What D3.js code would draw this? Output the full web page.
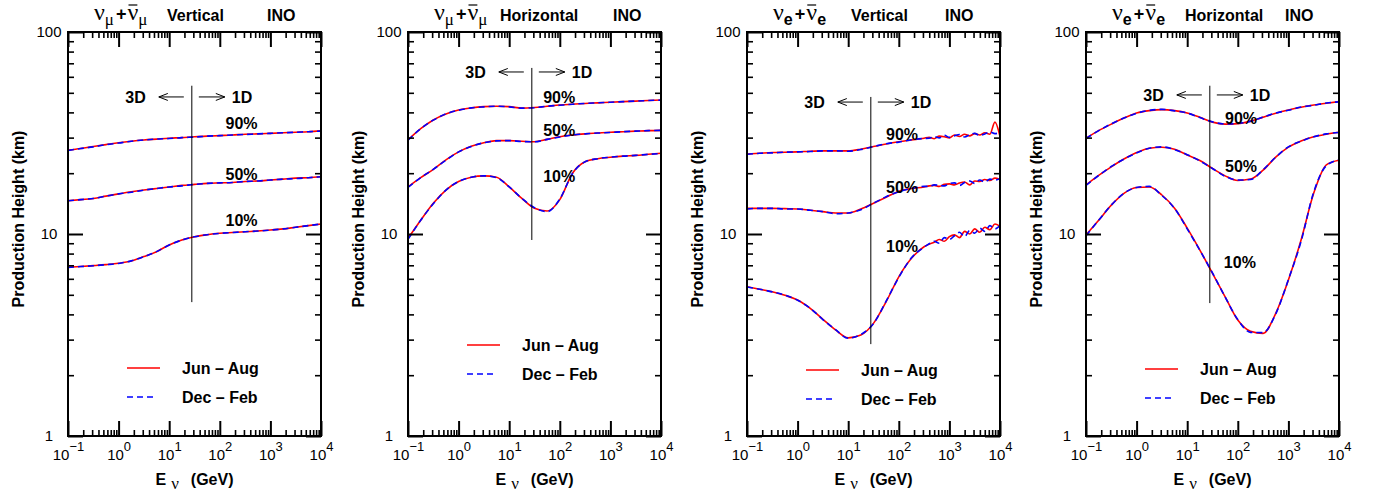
<!DOCTYPE html>
<html>
<head>
<meta charset="utf-8">
<script src="https://cdn.jsdelivr.net/npm/d3@7"></script>
<style>
  body { margin: 0; background: #fff; }
  svg { font-family: "Liberation Sans", Arial, Helvetica, sans-serif; }
  .bold { font-weight: bold; font-size: 16px; }
  .tick text { font-size: 15px; fill: #000; }
  .nu { font-family: "Liberation Serif", "DejaVu Serif", serif; font-size: 24px; }
  .mu { font-family: "Liberation Serif", "DejaVu Serif", serif; font-size: 17px; }
  .esub { font-weight: bold; font-size: 16px; }
  .plus { font-weight: bold; font-size: 18px; }
</style>
</head>
<body>
<svg width="1374" height="495"></svg>
<script>
// energy grid in GeV (log10 E = -1 ... 4 in steps of 0.25)
const energy = [0.1, 0.178, 0.316, 0.562, 1, 1.78, 3.16, 5.62, 10, 17.8, 31.6, 56.2,
  100, 178, 316, 562, 1000, 1780, 3160, 5620, 10000];
// finer grid above 300 GeV for the noisy nu_e vertical panel
const energyFine = [0.1, 0.178, 0.316, 0.562, 1, 1.78, 3.16, 5.62, 10, 17.8, 31.6, 56.2,
  100, 178, 316, 398, 501, 631, 794, 1000, 1259, 1585, 1995, 2512, 3162, 3981, 5012,
  6310, 7943, 10000];

// nu_mu vertical
const numuV90Jja = [26.0, 26.5, 27.1, 27.7, 28.3, 28.8, 29.2, 29.5, 29.8, 30.0, 30.3, 30.5, 30.7, 30.9, 31.2, 31.3, 31.5, 31.7, 31.9, 32.1, 32.4];
const numuV90Djf = [25.9, 26.5, 27.0, 27.7, 28.2, 28.8, 29.2, 29.5, 29.7, 30.0, 30.2, 30.5, 30.7, 30.9, 31.1, 31.3, 31.5, 31.7, 31.9, 32.1, 32.3];
const numuV50Jja = [14.6, 14.8, 15.0, 15.4, 15.8, 16.2, 16.5, 16.8, 17.1, 17.4, 17.6, 17.8, 17.9, 18.0, 18.2, 18.3, 18.5, 18.7, 18.9, 19.0, 19.2];
const numuV50Djf = [14.6, 14.8, 15.0, 15.4, 15.8, 16.1, 16.5, 16.8, 17.1, 17.3, 17.6, 17.8, 17.9, 18.0, 18.2, 18.3, 18.5, 18.7, 18.8, 19.0, 19.2];
const numuV10Jja = [6.84, 6.90, 6.97, 7.05, 7.16, 7.35, 7.73, 8.17, 8.83, 9.34, 9.70, 9.92, 10.08, 10.17, 10.26, 10.35, 10.46, 10.6, 10.8, 11.0, 11.2];
const numuV10Djf = [6.82, 6.90, 6.96, 7.05, 7.15, 7.36, 7.72, 8.18, 8.82, 9.33, 9.69, 9.92, 10.07, 10.17, 10.26, 10.34, 10.46, 10.6, 10.8, 11.0, 11.2];

// nu_mu horizontal
const numuH90Jja = [29.2, 33.2, 36.7, 39.3, 41.1, 42.1, 42.7, 42.9, 42.7, 42.0, 42.3, 42.9, 43.5, 43.9, 44.3, 44.6, 44.9, 45.2, 45.5, 45.8, 46.1];
const numuH90Djf = [29.1, 33.2, 36.6, 39.3, 41.0, 42.1, 42.6, 42.9, 42.6, 42.0, 42.2, 42.9, 43.4, 43.9, 44.3, 44.6, 44.9, 45.2, 45.5, 45.8, 46.0];
const numuH50Jja = [17.1, 19.0, 20.9, 23.3, 25.5, 27.2, 28.3, 29.0, 29.0, 28.8, 28.6, 29.4, 30.3, 30.9, 31.3, 31.6, 31.9, 32.1, 32.3, 32.5, 32.6];
const numuH50Djf = [17.0, 19.0, 20.9, 23.2, 25.5, 27.1, 28.3, 28.9, 29.0, 28.7, 28.6, 29.4, 30.2, 30.9, 31.3, 31.6, 31.8, 32.1, 32.3, 32.5, 32.6];
const numuH10Jja = [9.5, 11.7, 14.2, 16.5, 18.2, 19.1, 19.4, 19.1, 17.1, 15.0, 13.4, 13.0, 14.8, 20.0, 22.8, 23.6, 24.0, 24.3, 24.5, 24.8, 25.1];
const numuH10Djf = [9.4, 11.7, 14.1, 16.5, 18.2, 19.1, 19.4, 19.0, 17.1, 15.0, 13.5, 12.9, 14.9, 19.9, 22.8, 23.6, 24.0, 24.3, 24.5, 24.8, 25.0];

// nu_e vertical (fine grid)
const nueV90Jja = [24.9, 25.1, 25.3, 25.4, 25.5, 25.7, 25.8, 25.8, 25.8, 26.3, 27.1, 27.9, 28.6, 29.2, 29.8,
  30.1, 29.6, 30.5, 30.3, 29.9, 30.9, 30.4, 31.2, 30.6, 31.4, 30.9, 31.7, 31.2, 35.8, 30.4];
const nueV90Djf = [24.8, 25.1, 25.2, 25.4, 25.5, 25.6, 25.8, 25.8, 25.7, 26.2, 27.1, 28.0, 28.5, 29.3, 29.7,
  29.8, 30.4, 29.9, 30.8, 30.1, 30.6, 31.1, 30.2, 31.0, 31.5, 30.7, 31.3, 32.0, 31.4, 31.8];
const nueV50Jja = [13.4, 13.4, 13.4, 13.35, 13.3, 13.1, 12.9, 12.7, 12.7, 13.3, 14.2, 15.2, 16.3, 16.8, 17.1,
  17.3, 17.4, 17.2, 17.6, 17.7, 17.5, 17.9, 18.1, 17.5, 18.3, 18.2, 18.6, 18.4, 18.9, 18.6];
const nueV50Djf = [13.3, 13.4, 13.4, 13.3, 13.3, 13.1, 12.9, 12.6, 12.7, 13.2, 14.2, 15.3, 16.2, 16.8, 17.2,
  17.2, 17.5, 17.4, 17.3, 17.8, 17.9, 17.4, 18.0, 18.3, 17.8, 18.5, 18.1, 18.7, 18.5, 18.8];
const nueV10Jja = [5.48, 5.33, 5.18, 4.97, 4.71, 4.28, 3.78, 3.35, 3.06, 3.16, 3.61, 4.62, 6.14, 7.58, 8.65,
  8.9, 9.1, 9.4, 9.2, 9.7, 9.9, 9.6, 10.3, 10.0, 10.6, 10.2, 10.8, 10.5, 11.2, 10.9];
const nueV10Djf = [5.47, 5.33, 5.17, 4.98, 4.70, 4.29, 3.77, 3.36, 3.05, 3.18, 3.60, 4.65, 6.10, 7.62, 8.60,
  8.95, 9.2, 9.0, 9.6, 9.4, 9.8, 10.2, 9.7, 10.4, 10.1, 10.7, 10.3, 11.0, 10.6, 11.0];

// nu_e horizontal
const nueH90Jja = [29.8, 32.5, 35.0, 37.5, 39.7, 40.8, 41.3, 40.8, 39.7, 37.8, 35.8, 35.0, 35.2, 36.2, 37.9, 39.6, 41.1, 42.4, 43.5, 44.4, 45.2];
const nueH90Djf = [29.7, 32.5, 35.1, 37.5, 39.6, 40.9, 41.4, 40.7, 39.7, 37.7, 35.9, 35.0, 35.3, 36.1, 37.9, 39.7, 41.0, 42.5, 43.4, 44.5, 45.1];
const nueH50Jja = [17.5, 19.5, 21.5, 23.5, 25.3, 26.6, 26.9, 26.3, 24.6, 23.1, 21.1, 19.4, 18.4, 18.7, 20.7, 24.0, 26.9, 28.9, 30.3, 31.2, 31.9];
const nueH50Djf = [17.4, 19.5, 21.6, 23.5, 25.2, 26.6, 27.0, 26.2, 24.7, 23.0, 21.1, 19.3, 18.5, 18.6, 20.8, 24.0, 27.0, 28.8, 30.3, 31.3, 31.8];
const nueH10Jja = [9.9, 11.7, 13.9, 15.9, 17.0, 17.1, 15.6, 13.4, 10.7, 8.33, 6.39, 4.89, 3.75, 3.30, 3.22, 4.05, 5.92, 9.34, 15.9, 22.0, 23.2];
const nueH10Djf = [9.8, 11.7, 13.9, 15.9, 17.0, 17.2, 15.5, 13.4, 10.6, 8.30, 6.42, 4.87, 3.77, 3.26, 3.25, 4.02, 5.95, 9.20, 16.1, 21.8, 23.3];

const percentLabels = ['10%', '50%', '90%'];
const seasonLabels = ['Jun \u2013 Aug', 'Dec \u2013 Feb'];
const xMajor = [0.1, 1, 10, 100, 1000, 10000];
const xExponent = ['\u22121', '0', '1', '2', '3', '4'];
const yMajor = [1, 10, 100];
const cutEnergy = 28; // 3D / 1D boundary

const svg = d3.select('svg');

const plotW = 253;
const plotH = 404;
const plotTop = 32;

const panels = [
  { left: 68, sub: '\u03bc', subClass: 'mu', dir: 'Vertical', dirX: 99, inoX: 199,
    energy: energy,
    jja: [numuV10Jja, numuV50Jja, numuV90Jja], djf: [numuV10Djf, numuV50Djf, numuV90Djf],
    line: [4.6, 54.2], arrowY: 47.7, pctX: [130, 130, 130], pctY: [11.7, 19.8, 35.5], legendY: 336 },
  { left: 408, sub: '\u03bc', subClass: 'mu', dir: 'Horizontal', dirX: 92, inoX: 205,
    energy: energy,
    jja: [numuH10Jja, numuH50Jja, numuH90Jja], djf: [numuH10Djf, numuH50Djf, numuH90Djf],
    line: [9.34, 66.4], arrowY: 63.4, pctX: [47, 47, 47], pctY: [19.4, 32.6, 47.7], legendY: 313 },
  { left: 747, sub: 'e', subClass: 'esub', dir: 'Vertical', dirX: 104, inoX: 198,
    energy: energyFine,
    jja: [nueV10Jja, nueV50Jja, nueV90Jja], djf: [nueV10Djf, nueV50Djf, nueV90Djf],
    line: [2.85, 47.7], arrowY: 45.0, pctX: [56, 56, 56], pctY: [8.7, 17.1, 31.1], legendY: 338 },
  { left: 1086, sub: 'e', subClass: 'esub', dir: 'Horizontal', dirX: 99, inoX: 199,
    energy: energy,
    jja: [nueH10Jja, nueH50Jja, nueH90Jja], djf: [nueH10Djf, nueH50Djf, nueH90Djf],
    line: [4.55, 54.2], arrowY: 48.8, pctX: [53, 56, 56], pctY: [7.3, 21.8, 37.6], legendY: 337 }
];

const xScale = d3.scaleLog().domain([0.1, 10000]).range([0, plotW]);
const yScale = d3.scaleLog().domain([1, 100]).range([plotH, 0]);

const xMinor = xScale.ticks().filter(v => !xMajor.some(m => Math.abs(m - v) / m < 1e-6));
const yMinor = yScale.ticks().filter(v => !yMajor.some(m => Math.abs(m - v) / m < 1e-6));

const lineGen = d3.line()
  .x(d => xScale(d[0]))
  .y(d => yScale(d[1]))
  .curve(d3.curveMonotoneX);

const noLabel = () => '';

panels.forEach((p, pi) => {
  const g = svg.append('g').attr('transform', `translate(${p.left},${plotTop})`);

  g.append('clipPath').attr('id', 'clip' + pi)
    .append('rect').attr('width', plotW).attr('height', plotH);

  // curves: Jun-Aug red solid, Dec-Feb blue dashed on top
  const curves = g.append('g').attr('clip-path', `url(#clip${pi})`);
  p.jja.forEach(vals => {
    curves.append('path')
      .datum(p.energy.map((e, i) => [e, vals[i]]))
      .attr('d', lineGen)
      .attr('fill', 'none').attr('stroke', '#ff0000').attr('stroke-width', 1.6);
  });
  p.djf.forEach(vals => {
    curves.append('path')
      .datum(p.energy.map((e, i) => [e, vals[i]]))
      .attr('d', lineGen)
      .attr('fill', 'none').attr('stroke', '#0000ff').attr('stroke-width', 1.6)
      .attr('stroke-dasharray', '6,4');
  });

  // frame
  g.append('rect').attr('width', plotW).attr('height', plotH)
    .attr('fill', 'none').attr('stroke', '#000').attr('stroke-width', 2);

  // ticks on all four sides, pointing inwards
  const axes = [
    [d3.axisBottom(xScale).tickValues(xMajor).tickSize(-15), `translate(0,${plotH})`, 2, 'xb'],
    [d3.axisBottom(xScale).tickValues(xMinor).tickSize(-6).tickFormat(noLabel), `translate(0,${plotH})`, 1.6],
    [d3.axisTop(xScale).tickValues(xMajor).tickSize(-15).tickFormat(noLabel), 'translate(0,0)', 2],
    [d3.axisTop(xScale).tickValues(xMinor).tickSize(-6).tickFormat(noLabel), 'translate(0,0)', 1.6],
    [d3.axisLeft(yScale).tickValues(yMajor).tickSize(-15).tickFormat(d3.format('d')), 'translate(0,0)', 2, 'yl'],
    [d3.axisLeft(yScale).tickValues(yMinor).tickSize(-6).tickFormat(noLabel), 'translate(0,0)', 1.6],
    [d3.axisRight(yScale).tickValues(yMajor).tickSize(-15).tickFormat(noLabel), `translate(${plotW},0)`, 2],
    [d3.axisRight(yScale).tickValues(yMinor).tickSize(-6).tickFormat(noLabel), `translate(${plotW},0)`, 1.6]
  ];
  axes.forEach(([ax, tr, sw, cls]) => {
    const ag = g.append('g').attr('transform', tr).call(ax);
    ag.select('.domain').remove();
    ag.attr('font-family', null).attr('font-size', null);
    if (cls) ag.classed(cls, true);
    ag.selectAll('.tick line').attr('stroke', '#000').attr('stroke-width', sw);
    if (!cls) ag.selectAll('.tick text').remove();
  });

  // x tick labels 10^n
  g.select('.xb').selectAll('.tick text').each(function (d, i) {
    const t = d3.select(this).text(null).attr('y', 24).attr('dy', null);
    t.append('tspan').text('10');
    t.append('tspan').attr('dy', -9).attr('font-size', 13).text(xExponent[i]);
  });
  g.select('.yl').selectAll('.tick text')
    .attr('x', -19).attr('text-anchor', 'middle');

  // 3D / 1D boundary
  const lx = xScale(cutEnergy);
  g.append('line')
    .attr('x1', lx).attr('x2', lx)
    .attr('y1', yScale(p.line[1])).attr('y2', yScale(p.line[0]))
    .attr('stroke', '#000').attr('stroke-width', 1);
  const ay = yScale(p.arrowY);
  g.append('path')
    .attr('d', `M${lx - 8},${ay}H${lx - 33}M${lx - 24},${ay - 3.5}L${lx - 33},${ay}L${lx - 24},${ay + 3.5}` +
      `M${lx + 7},${ay}H${lx + 33}M${lx + 24},${ay - 3.5}L${lx + 33},${ay}L${lx + 24},${ay + 3.5}`)
    .attr('fill', 'none').attr('stroke', '#000').attr('stroke-width', 1);
  g.append('text').attr('class', 'bold').attr('x', lx - 46).attr('y', ay + 6)
    .attr('text-anchor', 'end').text('3D');
  g.append('text').attr('class', 'bold').attr('x', lx + 40).attr('y', ay + 6).text('1D');

  // percentile labels
  percentLabels.forEach((lab, i) => {
    g.append('text').attr('class', 'bold')
      .attr('x', xScale(p.pctX[i])).attr('y', yScale(p.pctY[i]) + 6)
      .text(lab);
  });

  // legend
  const lg = g.append('g').attr('transform', `translate(59,${p.legendY})`);
  seasonLabels.forEach((lab, i) => {
    lg.append('line').attr('x1', 0).attr('x2', i ? 30 : 33)
      .attr('y1', i * 29).attr('y2', i * 29)
      .attr('stroke', i ? '#0000ff' : '#ff0000').attr('stroke-width', 1.6)
      .attr('stroke-dasharray', i ? '6,4' : null);
    lg.append('text').attr('class', 'bold').attr('x', 55).attr('y', i * 29 + 6).text(lab);
  });

  // title
  const tt = g.append('text').attr('x', 26).attr('y', -12);
  tt.append('tspan').attr('class', 'nu').text('\u03bd');
  tt.append('tspan').attr('class', p.subClass).attr('dy', 5).text(p.sub);
  tt.append('tspan').attr('class', 'plus').attr('dy', -5).attr('dx', 2).text('+');
  tt.append('tspan').attr('class', 'nu').attr('dx', 1).text('\u03bd');
  tt.append('tspan').attr('class', p.subClass).attr('dy', 5).text(p.sub);
  const tn = tt.node();
  const s = tn.getStartPositionOfChar(3).x;
  const e = tn.getEndPositionOfChar(3).x;
  g.append('line').attr('x1', s + 1).attr('x2', e - 1).attr('y1', -27).attr('y2', -27)
    .attr('stroke', '#000').attr('stroke-width', 1.2);
  g.append('text').attr('class', 'bold').attr('x', p.dirX).attr('y', -11).text(p.dir);
  g.append('text').attr('class', 'bold').attr('x', p.inoX).attr('y', -11).text('INO');

  // axis titles
  const xl = g.append('text').attr('class', 'bold')
    .attr('x', plotW / 2).attr('y', plotH + 49).attr('text-anchor', 'middle');
  xl.append('tspan').text('E');
  xl.append('tspan').attr('class', 'mu').attr('font-weight', 'normal').attr('dx', 5).attr('dy', 4).text('\u03bd');
  xl.append('tspan').attr('dx', 12).attr('dy', -4).text('(GeV)');

  g.append('text').attr('class', 'bold')
    .attr('transform', `translate(-44,${187}) rotate(-90)`)
    .attr('text-anchor', 'middle')
    .text('Production Height (km)');
});
</script>
</body>
</html>
